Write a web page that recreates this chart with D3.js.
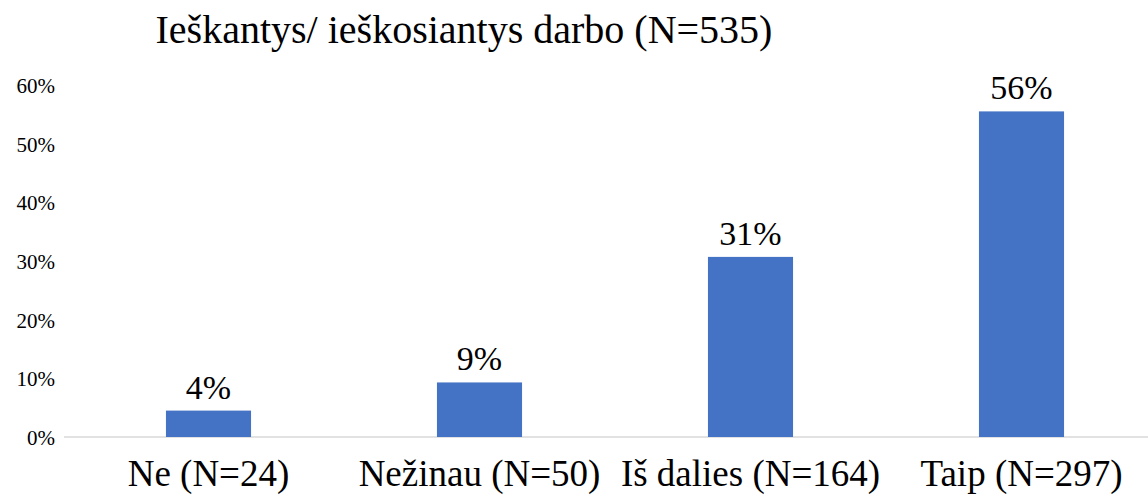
<!DOCTYPE html>
<html><head><meta charset="utf-8">
<script src="https://cdn.jsdelivr.net/npm/d3@7"></script>
</head><body style="margin:0"><svg id="c" width="1148" height="497" font-family="Liberation Serif"></svg>
<script>
const categories = ["Ne (N=24)", "Nežinau (N=50)", "Iš dalies (N=164)", "Taip (N=297)"];
const values = [4.5, 9.3, 30.7, 55.5];
const valueLabels = ["4%", "9%", "31%", "56%"];
const yTicks = [0, 10, 20, 30, 40, 50, 60];
const title = "Ieškantys/ ieškosiantys darbo (N=535)";
const FONT = "Liberation Serif";

const svg = d3.select("#c");
const x = d3.scaleBand().domain(categories).range([73, 1157]).paddingInner(0.686).paddingOuter(0.343);
const y = d3.scaleLinear().domain([0, 60]).range([437, 85]);

svg.append("text").attr("x", 464).attr("y", 43).attr("text-anchor", "middle")
  .attr("font-family", FONT).attr("font-size", 40).attr("fill", "#000").text(title);

const yAxis = d3.axisLeft(y).tickValues(yTicks).tickFormat(d => d + "%").tickSize(0).tickPadding(0);
const ya = svg.append("g").attr("transform", "translate(55,0)").call(yAxis)
  .attr("font-family", FONT).attr("font-size", 21);
ya.select(".domain").remove();
ya.selectAll("text").attr("dy", "0.35em").attr("fill", "#000").attr("font-family", FONT);

svg.append("line").attr("x1", 64).attr("x2", 1148).attr("y1", y(0)).attr("y2", y(0))
  .attr("stroke", "#d9d9d9").attr("stroke-width", 1.5);

svg.selectAll("rect.bar").data(values).join("rect").attr("class", "bar")
  .attr("x", (d, i) => x(categories[i])).attr("width", x.bandwidth())
  .attr("y", d => y(d)).attr("height", d => y(0) - y(d)).attr("fill", "#4472c4");

svg.selectAll("text.vl").data(values).join("text").attr("class", "vl")
  .attr("x", (d, i) => x(categories[i]) + x.bandwidth() / 2).attr("y", d => y(d) - 12)
  .attr("text-anchor", "middle").attr("font-family", FONT).attr("font-size", 34).attr("fill", "#000")
  .text((d, i) => valueLabels[i]);

const xAxis = d3.axisBottom(x).tickSize(0).tickPadding(0);
const xa = svg.append("g").attr("transform", `translate(0,${y(0)})`).call(xAxis)
  .attr("font-family", FONT).attr("font-size", 37);
xa.select(".domain").remove();
xa.selectAll("text").attr("y", 49).attr("dy", 0).attr("fill", "#000").attr("font-family", FONT);
</script></body></html>
